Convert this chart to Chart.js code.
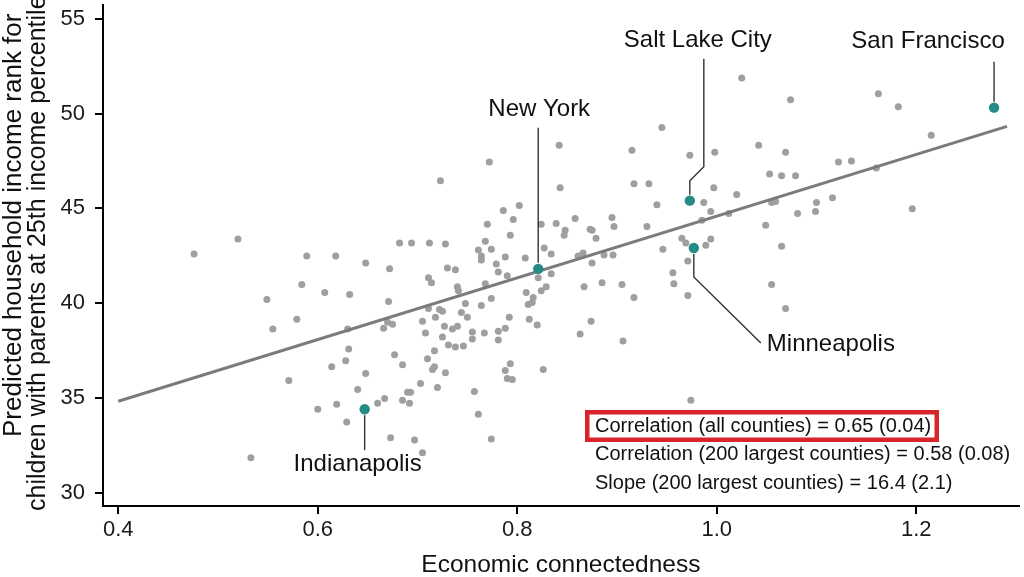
<!DOCTYPE html>
<html lang="en">
<head>
<meta charset="UTF-8">
<title>Economic connectedness and upward mobility</title>
<script src="https://cdn.jsdelivr.net/npm/chart.js"></script>
<style>
  html, body { margin: 0; padding: 0; background: #fff; }
  canvas { display: block; }
</style>
</head>
<body>
<canvas id="grafico" width="1024" height="577"></canvas>
<script>
// counties (x = economic connectedness, y = predicted income rank)
const countyX = [0.476,0.520,0.533,0.549,0.555,0.571,0.579,0.584,0.589,0.600,
  0.607,0.614,0.618,0.619,0.628,0.629,0.630,0.631,0.632,0.640,
  0.648,0.648,0.660,0.666,0.667,0.670,0.671,0.672,0.673,0.675,
  0.677,0.682,0.685,0.685,0.690,0.693,0.692,0.694,0.697,0.703,
  0.705,0.705,0.708,0.710,0.711,0.711,0.712,0.714,0.715,0.717,
  0.717,0.718,0.720,0.722,0.723,0.725,0.725,0.727,0.728,0.728,
  0.730,0.731,0.735,0.738,0.738,0.740,0.740,0.741,0.744,0.746,
  0.748,0.750,0.755,0.755,0.757,0.761,0.761,0.764,0.764,0.764,
  0.767,0.768,0.768,0.770,0.772,0.774,0.774,0.774,0.779,0.781,
  0.781,0.781,0.786,0.788,0.788,0.788,0.790,0.790,0.792,0.793,
  0.793,0.795,0.796,0.802,0.808,0.809,0.811,0.812,0.815,0.816,
  0.820,0.821,0.824,0.824,0.826,0.827,0.829,0.834,0.834,0.839,
  0.842,0.843,0.847,0.848,0.858,0.861,0.863,0.866,0.867,0.873,
  0.874,0.875,0.875,0.879,0.885,0.887,0.895,0.896,0.897,0.905,
  0.906,0.915,0.917,0.917,0.930,0.932,0.940,0.945,0.946,0.956,
  0.957,0.965,0.969,0.971,0.971,0.973,0.974,0.985,0.987,0.989,
  0.994,0.994,0.997,0.998,1.012,1.020,1.025,1.042,1.049,1.053,
  1.055,1.055,1.059,1.065,1.065,1.069,1.069,1.074,1.079,1.081,
  1.099,1.100,1.116,1.122,1.135,1.160,1.162,1.182,1.196,1.215];
const countyY = [42.59,43.38,31.84,40.19,38.63,35.91,39.15,40.98,42.49,34.40,
  40.56,36.64,42.49,34.66,36.96,33.72,38.63,37.58,40.45,35.44,
  42.12,36.28,34.71,38.68,34.97,38.99,40.09,41.81,32.89,38.89,
  37.27,43.17,36.75,34.87,35.29,35.29,34.71,43.17,32.78,35.76,
  39.04,32.10,38.42,37.06,41.34,39.72,43.17,41.08,36.49,37.48,
  36.64,39.25,35.55,39.67,46.46,39.57,38.21,38.78,43.12,36.33,
  41.86,37.79,38.63,41.76,37.69,38.78,40.87,40.66,39.51,37.74,
  39.98,39.25,38.47,38.11,35.34,42.80,34.14,42.49,42.28,39.88,
  38.42,43.27,41.03,44.16,47.45,42.85,40.24,32.83,42.07,41.65,
  38.52,38.05,44.89,42.44,38.68,36.44,41.45,36.02,39.25,43.59,
  36.80,35.97,44.42,45.15,42.38,40.56,39.93,39.15,40.04,40.30,
  38.84,41.34,44.16,40.66,36.49,42.91,40.87,42.59,41.55,44.21,
  48.33,46.09,43.59,43.85,44.47,42.49,38.37,42.65,40.87,43.90,
  39.04,43.85,42.12,43.43,41.08,42.54,44.52,42.54,44.05,40.98,
  38.00,48.07,46.30,40.30,44.05,46.30,45.20,49.27,42.85,41.60,
  41.03,43.43,43.17,42.23,40.40,47.81,34.87,44.37,45.31,43.06,
  44.84,43.38,46.09,47.97,44.73,45.73,51.88,48.33,44.11,46.82,
  45.31,40.98,45.36,46.72,43.01,47.97,39.72,50.74,46.72,44.73,
  44.84,45.31,45.57,47.45,47.50,47.13,51.05,50.37,44.99,48.86];

const cityNames = ['Indianapolis', 'New York', 'Salt Lake City', 'Minneapolis', 'San Francisco'];
const cityX = [0.647, 0.821, 0.973, 0.977, 1.278];
const cityY = [34.40, 41.81, 45.41, 42.91, 50.32];

// fitted line end points
const fitX = [0.400, 1.291];
const fitY = [34.82, 49.33];

const xTicks = [0.4, 0.6, 0.8, 1.0, 1.2];
const yTicks = [30, 35, 40, 45, 50, 55];

const statLines = [
  'Correlation (all counties) = 0.65 (0.04)',
  'Correlation (200 largest counties) = 0.58 (0.08)',
  'Slope (200 largest counties) = 16.4 (2.1)'
];
const yTitle = ['Predicted household income rank for', 'children with parents at 25th income percentile'];

const FONT = "'Liberation Sans', Arial, Helvetica, sans-serif";
const TEAL = '#268a87';

// callout shapes in px, relative to the city point
const callouts = {
  'Indianapolis':   { path: [[0, 6], [0, 41]], text: [-7, 55], align: 'center' },
  'New York':       { path: [[0, -6], [0, -141]], text: [1, -159], align: 'center' },
  'Salt Lake City': { path: [[0, -6], [0, -20], [14, -34], [14, -142]], text: [8, -160], align: 'center' },
  'Minneapolis':    { path: [[0, 6], [0, 29], [67, 95]], text: [73, 96], align: 'left' },
  'San Francisco':  { path: [[0, -6], [0, -46]], text: [-66, -66], align: 'center' }
};

const extras = {
  id: 'extras',
  afterDatasetsDraw(chart) {
    const ctx = chart.ctx;
    const xs = chart.scales.x, ys = chart.scales.y;
    ctx.save();

    cityNames.forEach((nome, i) => {
      const c = callouts[nome];
      const px = xs.getPixelForValue(cityX[i]);
      const py = ys.getPixelForValue(cityY[i]);
      ctx.beginPath();
      c.path.forEach(([dx, dy], k) => {
        if (k === 0) ctx.moveTo(px + dx, py + dy);
        else ctx.lineTo(px + dx, py + dy);
      });
      ctx.strokeStyle = '#333';
      ctx.lineWidth = 1.4;
      ctx.stroke();
      ctx.font = '24px ' + FONT;
      ctx.fillStyle = '#111';
      ctx.textAlign = c.align;
      ctx.textBaseline = 'middle';
      ctx.fillText(nome, px + c.text[0], py + c.text[1]);
    });

    // stats box
    ctx.font = '20px ' + FONT;
    ctx.fillStyle = '#111';
    ctx.textAlign = 'left';
    ctx.textBaseline = 'middle';
    statLines.forEach((t, i) => ctx.fillText(t, 595, 426 + i * 28.5));
    ctx.strokeStyle = '#d7252b';
    ctx.lineWidth = 4.5;
    ctx.strokeRect(587.25, 412.25, 349.5, 27.5);

    // y axis title, two lines
    ctx.textAlign = 'left';
    ctx.textBaseline = 'alphabetic';
    [[21, 437, 26], [45, 511, 25]].forEach(([tx, ty, fs], i) => {
      ctx.save();
      ctx.font = fs + 'px ' + FONT;
      ctx.translate(tx, ty);
      ctx.rotate(-Math.PI / 2);
      ctx.fillText(yTitle[i], 0, 0);
      ctx.restore();
    });
    ctx.restore();
  }
};

const ctx = document.getElementById('grafico').getContext('2d');
new Chart(ctx, {
  type: 'scatter',
  data: {
    datasets: [
      {
        label: 'Counties',
        data: countyX.map((x, i) => ({ x: x, y: countyY[i] })),
        backgroundColor: '#9f9f9f',
        borderWidth: 0,
        pointRadius: 3.5,
        order: 3
      },
      {
        type: 'line',
        label: 'Fit',
        data: fitX.map((x, i) => ({ x: x, y: fitY[i] })),
        borderColor: '#7b7b7b',
        borderWidth: 3,
        pointRadius: 0,
        fill: false,
        order: 2
      },
      {
        label: 'Cities',
        data: cityX.map((x, i) => ({ x: x, y: cityY[i] })),
        backgroundColor: TEAL,
        borderWidth: 0,
        pointRadius: 5.2,
        order: 1
      }
    ]
  },
  options: {
    responsive: false,
    animation: false,
    layout: { padding: { left: 0, right: 2, top: 0, bottom: 0 } },
    plugins: {
      legend: { display: false },
      tooltip: { enabled: false }
    },
    scales: {
      x: {
        type: 'linear',
        min: 0.3847,
        max: 1.3028,
        afterBuildTicks: s => { s.ticks = xTicks.map(v => ({ value: v })); },
        afterFit: s => { s.height = 71; s.paddingLeft = 0; s.paddingRight = 0; },
        ticks: {
          font: { family: FONT, size: 22 },
          color: '#1a1a1a',
          padding: 3,
          maxRotation: 0,
          callback: v => Number(v).toFixed(1)
        },
        grid: { drawOnChartArea: false, drawTicks: true, tickLength: 8, color: '#000', lineWidth: 2 },
        border: { color: '#000', width: 2 },
        title: {
          display: true,
          text: 'Economic connectedness',
          font: { family: FONT, size: 24.5, lineHeight: 1 },
          color: '#111',
          padding: { top: 0, bottom: 0 }
        }
      },
      y: {
        type: 'linear',
        min: 29.29,
        max: 55.73,
        afterBuildTicks: s => { s.ticks = yTicks.map(v => ({ value: v })); },
        afterFit: s => { s.width = 103; s.paddingTop = 0; s.paddingBottom = 0; },
        ticks: {
          font: { family: FONT, size: 22 },
          color: '#1a1a1a',
          padding: 10
        },
        grid: { drawOnChartArea: false, drawTicks: true, tickLength: 8, color: '#000', lineWidth: 2 },
        border: { color: '#000', width: 2 }
      }
    }
  },
  plugins: [extras]
});
</script>
</body>
</html>
